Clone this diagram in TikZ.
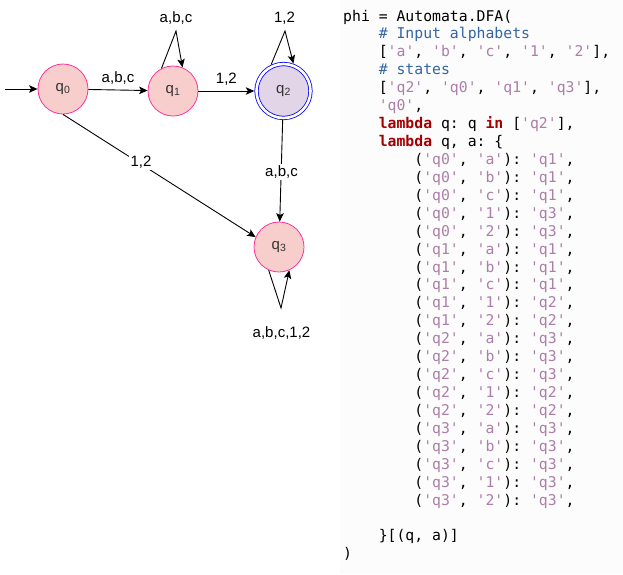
\documentclass[tikz,border=0pt]{standalone}
\usepackage{fontspec}
\setmainfont{Liberation Sans}
\setmonofont{DejaVu Sans Mono}
\usetikzlibrary{arrows.meta}

\definecolor{statefill}{HTML}{F8CECC}
\definecolor{statedraw}{HTML}{FF3399}
\definecolor{finalfill}{HTML}{E1D5E7}
\definecolor{finaldraw}{HTML}{0000FF}
\definecolor{cmtcol}{HTML}{3465A4}
\definecolor{strcol}{HTML}{AD7FA8}
\definecolor{kwcol}{HTML}{A40000}
\definecolor{codebg}{HTML}{FCFCFC}

% code highlighting helpers
\newcommand{\cm}[1]{\textcolor{cmtcol}{#1}}
\newcommand{\st}[1]{\textcolor{strcol}{#1}}
\newcommand{\kw}[1]{\textcolor{kwcol}{\bfseries #1}}
\newcommand{\tr}[3]{(\st{'#1'}, \st{'#2'}): \st{'#3'},}

% one line of code: name index, line number, indent (chars), text
\newcommand{\codeln}[4]{%
  \node[codeline] (c#1) at ({343+8.9*#3}, {21+17.93*#2}) {#4};}

\begin{document}
\begin{tikzpicture}[x=1pt, y=-1pt,
  state/.style={circle, draw=statedraw, fill=statefill, line width=0.8pt,
    minimum size=50pt, inner sep=0pt, font=\fontsize{15}{17}\selectfont,
    text=black!80},
  final/.style={circle, draw=finaldraw, fill=finalfill, line width=0.8pt,
    double=white, double distance=2.6pt, minimum size=54pt, inner sep=0pt,
    outer sep=2.2pt, font=\fontsize{15}{17}\selectfont, text=black!80},
  edge/.style={draw=black, line width=0.9pt,
    -{Stealth[length=8.5pt, width=7.5pt, inset=2pt]}},
  lbl/.style={font=\fontsize{15}{17}\selectfont, inner sep=1.5pt},
  lblbg/.style={lbl, fill=white},
  codeline/.style={anchor=base west, inner sep=0pt,
    font=\ttfamily\fontsize{14.78}{17.93}\selectfont, text=black}]

\useasboundingbox (0,0) rectangle (623,574);
\fill[codebg] (340,0) rectangle (623,574);

% automaton states
\node[state] (q0) at (63,89) {q\textsubscript{0}};
\node[state] (q1) at (173,91) {q\textsubscript{1}};
\node[final] (q2) at (283.5,91) {q\textsubscript{2}};
\node[state] (q3) at (279,247) {q\textsubscript{3}};

% loop apexes and start point
\coordinate (start) at (5,89);
\coordinate (ap1) at (176,31);
\coordinate (ap2) at (285,31);
\coordinate (ap3) at (281,308);

% transitions
\draw[edge] (start) -- (q0);
\draw[edge] (q0) -- node[lbl, above=4pt] {a,b,c} (q1);
\draw[edge] (q1) -- node[lbl, above=4pt] {1,2} (q2);
\draw[edge] (q1.117) -- (ap1) -- (q1.68);
\node[lbl] (l1) at (176,18) {a,b,c};
\draw[edge] (q2.115) -- (ap2) -- (q2.70);
\node[lbl] (l2) at (284.5,18) {1,2};
\draw[edge] (q2) -- (q3);
\node[lblbg] (l3) at (281.5,172) {a,b,c};
\draw[edge] (q0.south) -- (q3.157);
\node[lblbg] (l4) at (141,162) {1,2};
\draw[edge] (q3.246) -- (ap3) -- (q3.294);
\node[lbl] (l5) at (281.5,333) {a,b,c,1,2};

% source listing
\codeln{0}{0}{0}{phi = Automata.DFA(}
\codeln{1}{1}{4}{\cm{\# Input alphabets}}
\codeln{2}{2}{4}{[\st{'a'}, \st{'b'}, \st{'c'}, \st{'1'}, \st{'2'}],}
\codeln{3}{3}{4}{\cm{\# states}}
\codeln{4}{4}{4}{[\st{'q2'}, \st{'q0'}, \st{'q1'}, \st{'q3'}],}
\codeln{5}{5}{4}{\st{'q0'},}
\codeln{6}{6}{4}{\kw{lambda} q: q \kw{in} [\st{'q2'}],}
\codeln{7}{7}{4}{\kw{lambda} q, a: \{}
\codeln{8}{8}{8}{\tr{q0}{a}{q1}}
\codeln{9}{9}{8}{\tr{q0}{b}{q1}}
\codeln{10}{10}{8}{\tr{q0}{c}{q1}}
\codeln{11}{11}{8}{\tr{q0}{1}{q3}}
\codeln{12}{12}{8}{\tr{q0}{2}{q3}}
\codeln{13}{13}{8}{\tr{q1}{a}{q1}}
\codeln{14}{14}{8}{\tr{q1}{b}{q1}}
\codeln{15}{15}{8}{\tr{q1}{c}{q1}}
\codeln{16}{16}{8}{\tr{q1}{1}{q2}}
\codeln{17}{17}{8}{\tr{q1}{2}{q2}}
\codeln{18}{18}{8}{\tr{q2}{a}{q3}}
\codeln{19}{19}{8}{\tr{q2}{b}{q3}}
\codeln{20}{20}{8}{\tr{q2}{c}{q3}}
\codeln{21}{21}{8}{\tr{q2}{1}{q2}}
\codeln{22}{22}{8}{\tr{q2}{2}{q2}}
\codeln{23}{23}{8}{\tr{q3}{a}{q3}}
\codeln{24}{24}{8}{\tr{q3}{b}{q3}}
\codeln{25}{25}{8}{\tr{q3}{c}{q3}}
\codeln{26}{26}{8}{\tr{q3}{1}{q3}}
\codeln{27}{27}{8}{\tr{q3}{2}{q3}}
\codeln{29}{29}{4}{\}[(q, a)]}
\codeln{30}{30}{0}{)}
\end{tikzpicture}
\end{document}
